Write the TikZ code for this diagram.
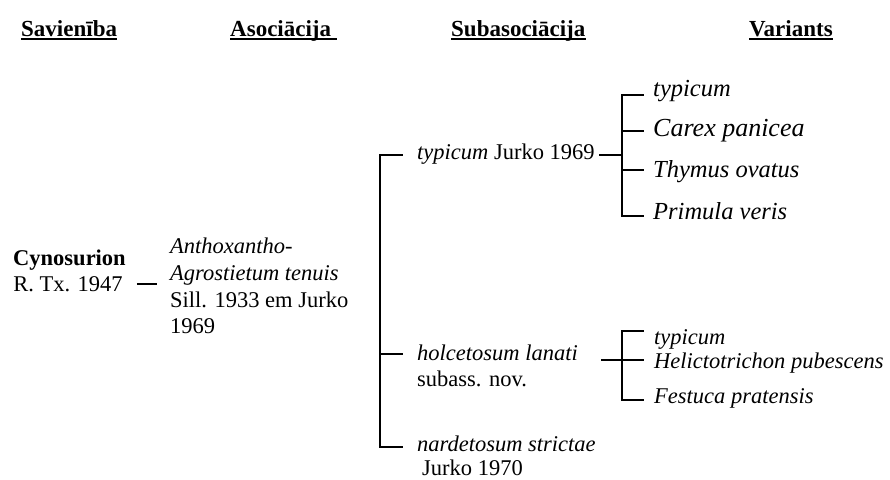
\documentclass[tikz,border=0pt]{standalone}
\usepackage{fontspec}
\setmainfont{Liberation Serif}
\begin{document}
\begin{tikzpicture}[x=1pt,y=-1pt,
  hdr/.style={font=\fontsize{23}{27}\selectfont\bfseries,anchor=base west,inner sep=0pt},
  txt/.style={font=\fontsize{22.5}{27}\selectfont,anchor=base west,inner sep=0pt},
  vtxt/.style={font=\fontsize{24.5}{29}\selectfont\itshape,anchor=base west,inner sep=0pt},
  ln/.style={line width=1.2pt,line cap=rect},
  ul/.style={line width=2.4pt}]
\useasboundingbox (0,0) rectangle (890,479);
% headers
\node[hdr] (h1) at (21,36) {Savienība};
\node[hdr] (h2) at (230,36) {Asociācija};
\node[hdr] (h3) at (451,36) {Subasociācija};
\node[hdr] (h4) at (749,36) {Variants};
\draw[ul] ([yshift=-3pt]h1.base west) -- ([yshift=-3pt]h1.base east);
\draw[ul] ([yshift=-3pt]h2.base west) -- ([yshift=-3pt,xshift=6pt]h2.base east);
\draw[ul] ([yshift=-3pt]h3.base west) -- ([yshift=-3pt]h3.base east);
\draw[ul] ([yshift=-3pt]h4.base west) -- ([yshift=-3pt]h4.base east);
% alliance
\node[txt,anchor=base,font=\fontsize{22.5}{27}\selectfont\bfseries] (c1) at (69.5,265) {Cynosurion};
\node[txt,anchor=base] (c2) at (68,291) {R. Tx. 1947};
% association
\node[txt] (a1) at (170,253) {\itshape Anthoxantho-};
\node[txt] (a2) at (170,280) {\itshape Agrostietum tenuis};
\node[txt] (a3) at (170,307) {Sill. 1933 em Jurko};
\node[txt] (a4) at (170,333) {1969};
\coordinate (dy) at (0,284);
\draw[ln,line cap=butt,shorten <=11pt,shorten >=13pt] (c1.east|-dy) -- (a2.west|-dy);
% subassociations
\node[txt] (s1) at (417,159) {\textit{typicum} Jurko 1969};
\node[txt] (s2) at (417,360) {\itshape holcetosum lanati};
\node[txt] (s2b) at (417,386) {subass. nov.};
\node[txt] (s3) at (417,451) {\itshape nardetosum strictae};
\node[txt] (s3b) at (422,475) {Jurko 1970};
\coordinate (mt) at (380,155);
\coordinate (mm) at (380,354);
\coordinate (mb) at (380,447);
\draw[ln] (mt) -- (mb);
\draw[ln,shorten >=15pt] (mt) -- (s1.west|-mt);
\draw[ln,shorten >=15pt] (mm) -- (s2.west|-mm);
\draw[ln,shorten >=15pt] (mb) -- (s3.west|-mb);
% variants of typicum
\node[vtxt] (v1) at (653,96) {typicum};
\node[vtxt,font=\fontsize{26}{30}\selectfont\itshape] (v2) at (653,136) {Carex panicea};
\node[vtxt] (v3) at (653,177) {Thymus ovatus};
\node[vtxt] (v4) at (653,219) {Primula veris};
\coordinate (uj) at (622,155);
\coordinate (u1) at (622,95);
\coordinate (u2) at (622,131);
\coordinate (u3) at (622,170);
\coordinate (u4) at (622,216);
\draw[ln] (u1) -- (u4);
\draw[ln,shorten <=5pt] (s1.east|-uj) -- (uj);
\draw[ln,shorten >=10pt] (u1) -- (v1.west|-u1);
\draw[ln,shorten >=10pt] (u2) -- (v2.west|-u2);
\draw[ln,shorten >=10pt] (u3) -- (v3.west|-u3);
\draw[ln,shorten >=10pt] (u4) -- (v4.west|-u4);
% variants of holcetosum
\node[txt] (w1) at (654,344) {\itshape typicum};
\node[txt] (w2) at (654,368) {\itshape Helictotrichon pubescens};
\node[txt] (w3) at (654,403) {\itshape Festuca pratensis};
\coordinate (l1) at (622,331);
\coordinate (l2) at (622,360);
\coordinate (l3) at (622,400);
\coordinate (lx) at (602,360);
\draw[ln] (l1) -- (l3);
\draw[ln,shorten >=11pt] (lx) -- (w2.west|-l2);
\draw[ln,shorten >=11pt] (l1) -- (w1.west|-l1);
\draw[ln,shorten >=11pt] (l3) -- (w3.west|-l3);
\end{tikzpicture}
\end{document}
